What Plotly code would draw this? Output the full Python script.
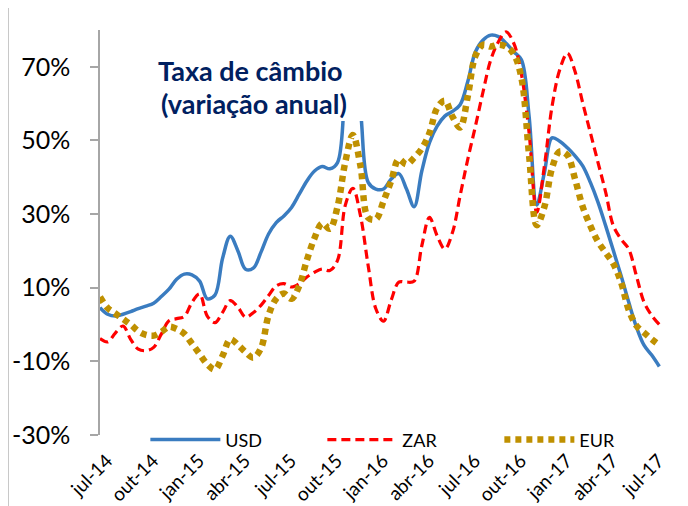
import plotly.graph_objects as go

# Category axis: half-month periods from jul-14 to jul-17
tick_labels = ["jul-14", "out-14", "jan-15", "abr-15", "jul-15", "out-15", "jan-16",
               "abr-16", "jul-16", "out-16", "jan-17", "abr-17", "jul-17"]
tick_periods = [0, 6, 12, 18, 24, 30, 36, 42, 48, 54, 60, 66, 72]
y_ticks = [-30, -10, 10, 30, 50, 70]
y_tick_labels = ["-30%", "-10%", "10%", "30%", "50%", "70%"]

usd = [4.6, 2.8, 2.3, 2.8, 3.5, 4.3, 5.0, 5.8, 7.6, 9.6,
       12.3, 13.7, 13.5, 11.8, 7.0, 8.0, 18.0, 24.0, 20.0, 15.0,
       15.3, 19.6, 24.6, 27.7, 29.5, 31.8, 35.4, 39.0, 41.7, 42.9,
       42.3, 44.0, 62.0, 72.0, 58.0, 38.6, 36.8, 36.8, 39.5, 41.0,
       36.8, 32.0, 41.7, 49.4, 53.9, 56.6, 57.9, 59.7, 66.0, 74.1,
       77.3, 78.6, 78.2, 76.4, 74.1, 71.9, 56.6, 32.5, 41.3, 50.7,
       49.8, 48.0, 45.8, 43.1, 38.6, 33.2, 26.8, 20.1, 13.3, 6.1,
       -0.6, -5.6, -8.3, -11.4]

zar = [-3.8, -4.7, -2.3, -0.4, -4.0, -6.7, -7.1, -6.2, -2.6, 1.0,
       1.6, 2.2, 6.0, 8.3, 2.3, 0.5, 3.3, 6.5, 4.7, 2.0,
       3.2, 5.2, 7.9, 10.5, 11.1, 10.2, 11.1, 12.9, 14.2, 15.1,
       14.7, 17.4, 32.3, 37.0, 29.5, 16.0, 4.3, 0.9, 6.6, 11.5,
       11.5, 11.8, 21.4, 29.1, 24.1, 20.5, 25.0, 35.0, 44.9, 53.9,
       63.3, 71.9, 76.8, 79.5, 76.4, 68.0, 52.1, 30.5, 43.1, 59.3,
       69.2, 73.7, 68.7, 60.2, 52.1, 44.0, 35.9, 26.8, 23.2, 20.5,
       13.3, 6.1, 2.5, 0.0]

eur = [7.5, 4.5, 3.0, 1.5, 0.0, -1.8, -2.8, -3.0, -2.0, -0.6,
       -1.2, -2.5, -5.2, -8.0, -10.8, -12.2, -8.5, -4.0, -5.5, -7.5,
       -9.0, -6.5, 2.5, 7.0, 8.4, 7.0, 10.5, 17.5, 23.5, 27.5,
       26.0, 32.0, 44.0, 51.5, 43.0, 29.0, 28.6, 33.5, 39.0, 44.9,
       43.5, 45.3, 47.8, 52.0, 58.8, 60.8, 56.5, 53.5, 62.0, 73.0,
       76.0, 75.5, 76.0, 75.5, 73.5, 67.0, 46.0, 27.0, 32.0, 42.5,
       47.0, 46.0, 39.5, 32.0, 26.8, 22.5, 19.5, 16.5, 11.5, 4.0,
       -0.3, -2.2, -4.0, -5.6]

periods = list(range(len(usd)))

AX = "#A6A6A6"
L, T, PW, PH = 92, 22, 567, 405   # plot area in figure pixels (page adds an 8px body margin)

def px_x(x):
    return (x - L) / PW

def px_y(y):
    return (T + PH - y) / PH

fig = go.Figure()
fig.add_trace(go.Scatter(x=periods, y=usd, name="USD", mode="lines",
                         line=dict(color="#3A7CC0", width=3.5, shape="spline", smoothing=1.0)))
fig.add_trace(go.Scatter(x=periods, y=zar, name="ZAR", mode="lines",
                         line=dict(color="#FF0000", width=3.2, dash="9px,5px", shape="spline", smoothing=1.0)))
fig.add_trace(go.Scatter(x=periods, y=eur, name="EUR", mode="lines",
                         line=dict(color="#BF9000", width=6.5, dash="6px,5px", shape="spline", smoothing=1.0)))

fig.update_layout(
    width=680, height=498,
    margin=dict(l=L, r=680 - L - PW, t=T, b=498 - T - PH, autoexpand=False),
    paper_bgcolor="white", plot_bgcolor="white",
    font=dict(family="Lato", color="black"),
    legend=dict(orientation="h", x=0.08, y=-0.012, xanchor="left", yanchor="middle",
                font=dict(size=18), bgcolor="rgba(0,0,0,0)",
                itemwidth=70, entrywidth=92, entrywidthmode="pixels"),
    xaxis=dict(range=[0, 74], tickvals=tick_periods, ticktext=tick_labels, tickangle=-45,
               showline=False, showgrid=False, zeroline=False, ticks="", automargin=False,
               tickfont=dict(size=19), ticklabelstandoff=10, ticklabelshift=7),
    xaxis2=dict(overlaying="x", anchor="free", position=30 / 110, range=[0, 74],
                tickvals=tick_periods, ticks="outside", ticklen=7, tickcolor=AX, tickwidth=1.5,
                showline=True, linecolor=AX, linewidth=1.5, showticklabels=False,
                showgrid=False, zeroline=False, automargin=False),
    yaxis=dict(range=[-30, 80], tickvals=y_ticks, ticktext=y_tick_labels,
               showline=True, linecolor=AX, linewidth=1.5, ticks="outside", ticklen=8,
               tickcolor=AX, tickwidth=1.5, showgrid=False, zeroline=False, automargin=False,
               tickfont=dict(size=25), ticklabelstandoff=15),
    shapes=[
        dict(type="rect", xref="paper", yref="paper",
             x0=px_x(142), x1=px_x(358), y0=px_y(113), y1=px_y(34),
             fillcolor="white", line=dict(width=0), layer="above"),
        dict(type="line", xref="paper", yref="paper",
             x0=px_x(0.5), x1=px_x(0.5), y0=px_y(498), y1=px_y(0),
             line=dict(color="#C8C8C8", width=1)),
    ],
    annotations=[
        dict(text="<b>Taxa de câmbio</b>", xref="paper", yref="paper",
             x=px_x(242.5), y=px_y(63), xanchor="center", yanchor="middle",
             showarrow=False, font=dict(size=27, color="#002060", family="Lato")),
        dict(text="<b>(variação anual)</b>", xref="paper", yref="paper",
             x=px_x(246), y=px_y(96), xanchor="center", yanchor="middle",
             showarrow=False, font=dict(size=27, color="#002060", family="Lato")),
    ],
)

fig.write_html("out.html")
